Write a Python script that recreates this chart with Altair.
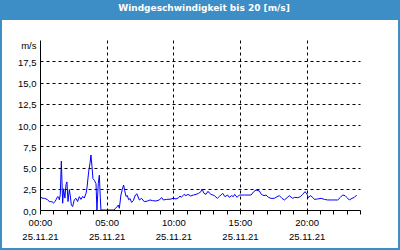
import altair as alt
import pandas as pd

TITLE = "Windgeschwindigkeit bis 20 [m/s]"
DAY = "2021-11-25"
Y_UNIT = "m/s"
Y_TICKS = [0, 2.5, 5, 7.5, 10, 12.5, 15, 17.5, 20]
X_TICK_HOURS = list(range(0, 25))
X_LABEL_EVERY = 5

HOURS = [
    0.00, 0.15, 0.33, 0.45, 0.57, 0.70, 0.82, 0.92, 1.02, 1.12, 1.20, 1.32, 1.40, 1.45,
    1.52, 1.60, 1.70, 1.77, 1.87, 1.95, 2.02, 2.10, 2.20, 2.27, 2.35, 2.45, 2.57, 2.70,
    2.82, 2.95, 3.07, 3.20, 3.32, 3.45, 3.52, 3.65, 3.75, 3.82, 3.90, 3.97, 4.07, 4.20,
    4.27, 4.37, 4.45, 4.52, 4.57, 5.00, 5.57, 5.65, 5.80, 5.87, 5.95, 6.07, 6.17, 6.27,
    6.35, 6.45, 6.55, 6.65, 6.75, 6.87, 7.00, 7.15, 7.27, 7.45, 7.62, 7.82, 8.07, 8.25,
    8.45, 8.70, 8.95, 9.12, 9.25, 9.50, 9.75, 10.00, 10.20, 10.40, 10.50, 10.60, 10.80,
    10.95, 11.10, 11.30, 11.50, 11.70, 11.90, 12.07, 12.15, 12.30, 12.45, 12.60, 12.70,
    12.83, 13.08, 13.30, 13.45, 13.57, 13.70, 13.87, 14.07, 14.20, 14.37, 14.50, 14.60,
    14.78, 14.95, 15.33, 15.83, 16.03, 16.20, 16.45, 16.60, 16.80, 16.95, 17.13, 17.33,
    17.58, 17.78, 17.95, 18.15, 18.33, 18.53, 18.70, 18.95, 19.10, 19.33, 19.53, 19.70,
    19.88, 20.03, 20.13, 20.28, 20.45, 20.58, 20.83, 21.08, 21.33, 21.58, 21.95, 22.33,
    22.53, 22.70, 22.88, 23.03, 23.20, 23.40, 23.58, 23.75,
]
SPEED = [
    1.57, 1.40, 1.37, 1.30, 1.20, 1.00, 0.98, 0.95, 0.80, 1.00, 1.20, 1.57, 1.50, 1.20,
    1.80, 5.76, 0.80, 2.50, 1.40, 3.00, 3.30, 1.00, 2.40, 1.70, 0.60, 0.40, 1.20, 1.37,
    1.00, 1.57, 1.25, 1.60, 1.40, 1.96, 2.55, 4.50, 5.50, 6.47, 5.10, 3.70, 3.50, 3.10,
    0.00, 3.10, 4.10, 1.50, 0.00, 0.00, 0.00, 0.20, 0.40, 0.59, 0.20, 1.76, 2.40, 2.94,
    2.30, 1.60, 1.70, 1.20, 1.35, 0.90, 1.10, 1.76, 1.90, 1.18, 1.37, 0.98, 1.06, 1.18,
    1.10, 1.06, 1.18, 1.47, 1.18, 1.25, 1.27, 1.37, 1.30, 1.45, 1.65, 1.49, 1.84,
    1.69, 1.84, 1.65, 1.76, 1.84, 1.96, 2.16, 2.47, 1.96, 1.84, 2.20, 2.00,
    1.84, 1.69, 1.37, 1.60, 1.76, 1.96, 1.57, 1.76, 1.49, 1.69, 1.57, 1.84,
    1.49, 1.76, 1.76, 1.76, 2.16, 2.35, 2.24, 1.84, 1.69, 1.76, 1.49, 1.37,
    1.37, 1.57, 1.69, 1.37, 1.18, 1.45, 1.69, 1.37, 1.49, 1.45, 1.57, 1.84,
    2.16, 1.84, 1.45, 1.69, 1.49, 1.25, 1.30, 1.37, 1.25, 1.18, 1.18, 1.18,
    1.49, 1.76, 1.69, 1.45, 1.18, 1.37, 1.49, 1.76,
]

base = pd.Timestamp(DAY, tz="UTC")
times = [(base + pd.to_timedelta(h, unit="h")).strftime("%Y-%m-%dT%H:%M:%SZ") for h in HOURS]
df = pd.DataFrame({"time": times, "speed": SPEED})

start_ms = int(base.value // 10**6)
end_ms = start_ms + 24 * 3600 * 1000
tick_values = [start_ms + h * 3600 * 1000 for h in X_TICK_HOURS]

lab_cond = f"utchours(datum.value) % {X_LABEL_EVERY} == 0 && datum.value < {end_ms}"
grid_cond = f"{lab_cond} && datum.value > {start_ms}"
x_label_expr = (
    f"({lab_cond}) ? [utcFormat(datum.value, '%H:%M'), utcFormat(datum.value, '%d.%m.%y')] : ''"
)
y_max = Y_TICKS[-1]
y_label_expr = (
    f"datum.value == {y_max} ? '{Y_UNIT}' : replace(format(datum.value, '.1f'), '.', ',')"
)

LABEL_FONT = "Liberation Sans"

line = alt.Chart(df).mark_line(color="#0000ff", strokeWidth=1, clip=True).encode(
    x=alt.X(
        "time:T",
        scale=alt.Scale(type="utc", domain=[start_ms, end_ms]),
        axis=alt.Axis(
            values=tick_values,
            labelExpr=x_label_expr,
            title=None,
            tickSize=4,
            tickColor="black",
            domainColor="black",
            labelColor="black",
            labelFont=LABEL_FONT,
            labelFontSize=9.5,
            labelLineHeight=14,
            labelPadding=3,
            labelOverlap=False,
            labelFlush=False,
            labelBound=False,
            grid=True,
            gridColor="black",
            gridDash=[3, 3],
            gridOpacity={"condition": {"test": grid_cond, "value": 1}, "value": 0},
            zindex=1,
        ),
    ),
    y=alt.Y(
        "speed:Q",
        scale=alt.Scale(domain=[0, y_max], nice=False, zero=True),
        axis=alt.Axis(
            values=Y_TICKS,
            labelExpr=y_label_expr,
            title=None,
            ticks=False,
            tickSize=0,
            domainColor="black",
            labelColor="black",
            labelFont=LABEL_FONT,
            labelFontSize=9.5,
            labelPadding=4,
            labelFlush=False,
            labelOffset={"condition": {"test": f"datum.value == {y_max}", "value": 5}, "value": 1},
            grid=True,
            gridColor="black",
            gridDash=[3, 3],
            gridOpacity={
                "condition": {"test": f"datum.value > 0 && datum.value < {y_max}", "value": 1},
                "value": 0,
            },
            zindex=1,
        ),
    ),
)

panel = alt.Chart(pd.DataFrame({"k": [0]})).mark_rect(color="white").encode(
    x=alt.value(-38), x2=alt.value(358), y=alt.value(-20), y2=alt.value(208)
)

title = alt.Chart(pd.DataFrame({"title": [TITLE]})).mark_text(
    font="DejaVu Sans", fontWeight="bold", fontSize=9, color="white",
    align="center", baseline="middle",
).encode(text="title:N", x=alt.value(164), y=alt.value(-32))

chart = alt.layer(panel, line, title).properties(
    width=320,
    height=170,
    autosize=alt.AutoSizeParams(type="none"),
    padding={"left": 40, "top": 40, "right": 40, "bottom": 40},
    background="#3d8ec6",
).configure_view(stroke="black", strokeWidth=1, fill="white")

chart.save("out.html", embed_options={"renderer": "svg", "actions": False})
